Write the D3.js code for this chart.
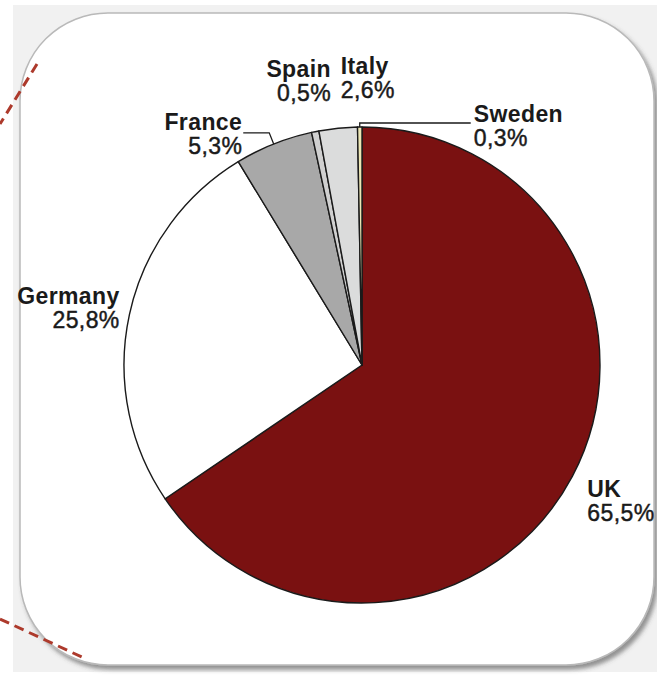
<!DOCTYPE html>
<html lang="en">
<head>
  <meta charset="UTF-8" />
  <script src="https://d3js.org/d3.v7.min.js"></script>
  <title>Share by country</title>
  <style>
    html, body {
      margin: 0;
      padding: 0;
      background: #ffffff;
    }
    svg { display: block; }
    .lbl { font-family: "Liberation Sans", Arial, sans-serif; font-size: 23px; letter-spacing: 0.4px; fill: #1a1a1a; }
    .val { stroke: #1a1a1a; stroke-width: 0.45px; }
  </style>
</head>
<body>
<svg id="chart"></svg>
<script>
// pie data, clockwise from 12 o'clock
var countries = ["UK", "Germany", "France", "Spain", "Italy", "Sweden"];
var shares = [65.5, 25.8, 5.3, 0.5, 2.6, 0.3];
var shareLabels = ["65,5%", "25,8%", "5,3%", "0,5%", "2,6%", "0,3%"];
var colors = ["#7a1111", "#ffffff", "#a8a8a8", "#d0d0d0", "#dbdcdc", "#ece6b4"];

var width = 657, height = 676;
var cx = 362, cy = 365, radius = 238;

// label placement: radius along the slice angle, nudge, anchor, optional leader
var labelLayout = [
  {r: 255, dx: 0, dy: 13, anchor: "start"},
  {r: 250, dx: 2, dy: -8, anchor: "end"},
  {r: 250, dx: -27, dy: -3, anchor: "end", leader: "left", len: 26},
  {r: 295, dx: 27, dy: 1, anchor: "end"},
  {r: 292, dx: 8, dy: 0, anchor: "start"},
  {r: 242, dx: 114, dy: -1, anchor: "start", leader: "right", len: 111}
];

var svg = d3.select("#chart")
  .attr("width", width)
  .attr("height", height);

var defs = svg.append("defs");
var f = defs.append("filter").attr("id", "shadow")
  .attr("x", "-10%").attr("y", "-10%").attr("width", "120%").attr("height", "120%");
f.append("feDropShadow")
  .attr("dx", 3).attr("dy", 4)
  .attr("stdDeviation", 2)
  .attr("flood-color", "#444")
  .attr("flood-opacity", 0.55);

// grey backdrop and rounded panel
svg.append("rect")
  .attr("x", 13).attr("y", 5)
  .attr("width", width - 13).attr("height", height - 9)
  .attr("fill", "#f1f1f1");

svg.append("rect")
  .attr("x", 20).attr("y", 13)
  .attr("width", 634).attr("height", 652)
  .attr("rx", 88).attr("ry", 88)
  .attr("fill", "#ffffff")
  .attr("stroke", "#b9b9b9")
  .attr("stroke-width", 1.5)
  .attr("filter", "url(#shadow)");

// dashed callout lines
var callouts = [[[37, 64], [0, 124]], [[0, 619], [86, 659]]];
svg.selectAll(".callout")
  .data(callouts)
  .join("path")
  .attr("class", "callout")
  .attr("d", d3.line())
  .attr("fill", "none")
  .attr("stroke", "#ad3a2c")
  .attr("stroke-width", 3)
  .attr("stroke-dasharray", "10,6");

var data = countries.map(function(c, i) {
  return {name: c, value: shares[i], label: shareLabels[i], color: colors[i], lay: labelLayout[i]};
});

var pie = d3.pie()
  .sort(null)
  .value(function(d) { return d.value; });

var arc = d3.arc().innerRadius(0).outerRadius(radius);
var arcs = pie(data);

var g = svg.append("g").attr("transform", "translate(" + cx + "," + cy + ")");

g.selectAll("path.slice")
  .data(arcs)
  .join("path")
  .attr("class", "slice")
  .attr("d", arc)
  .attr("fill", function(d) { return d.data.color; })
  .attr("stroke", "#1a1a1a")
  .attr("stroke-width", 1.4)
  .attr("stroke-linejoin", "round");

function polar(a, r) {
  return [Math.sin(a) * r, -Math.cos(a) * r];
}

arcs.forEach(function(d) {
  var lay = d.data.lay;
  var mid = (d.startAngle + d.endAngle) / 2;
  var p = polar(mid, lay.r);

  if (lay.leader) {
    var edge = polar(mid, radius);
    var endX = lay.leader === "left" ? p[0] - lay.len : p[0] + lay.len;
    g.append("path")
      .attr("d", d3.line()([edge, p, [endX, p[1]]]))
      .attr("fill", "none")
      .attr("stroke", "#1a1a1a")
      .attr("stroke-width", 1.3);
  }

  var t = g.append("text")
    .attr("class", "lbl")
    .attr("text-anchor", lay.anchor)
    .attr("x", p[0] + lay.dx)
    .attr("y", p[1] + lay.dy);
  t.append("tspan")
    .attr("font-weight", "bold")
    .text(d.data.name);
  t.append("tspan")
    .attr("class", "val")
    .attr("x", p[0] + lay.dx)
    .attr("dy", 24)
    .text(d.data.label);
});
</script>
</body>
</html>
